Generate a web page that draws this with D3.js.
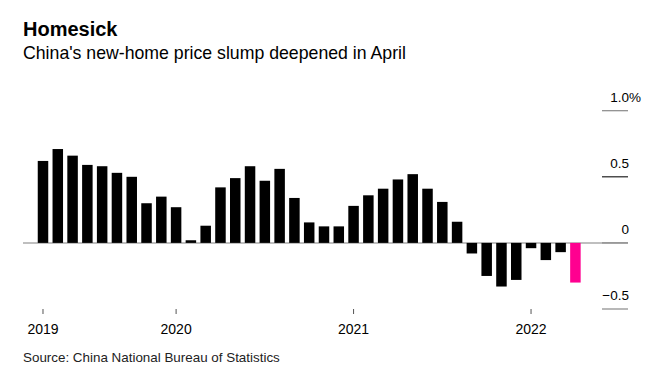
<!DOCTYPE html>
<html>
<meta charset="utf-8">
<style type="text/css">
	body { margin: 0; background: #fff; }
	svg { font-family: "Liberation Sans", Arial, sans-serif; }
	.title { font-size: 20px; font-weight: bold; }
	.subtitle { font-size: 17.7px; }
	.source { font-size: 13.4px; fill: #222; }
	.ylab { font-size: 13.5px; }
	.xaxis text { font-size: 14px; fill: #000; font-family: "Liberation Sans", Arial, sans-serif; }
	.xaxis line { stroke: #555; }
	.xaxis path { display: none; }
</style>
<svg width="654" height="384"></svg>
<script src="https://d3js.org/d3.v7.min.js"></script>
<script>
	// monthly change in new-home prices, Apr 2019 .. Apr 2022 (%)
	var months = [
		'2019-04','2019-05','2019-06','2019-07','2019-08','2019-09','2019-10','2019-11','2019-12',
		'2020-01','2020-02','2020-03','2020-04','2020-05','2020-06','2020-07','2020-08','2020-09','2020-10','2020-11','2020-12',
		'2021-01','2021-02','2021-03','2021-04','2021-05','2021-06','2021-07','2021-08','2021-09','2021-10','2021-11','2021-12',
		'2022-01','2022-02','2022-03','2022-04'
	];
	var values = [
		0.62, 0.71, 0.66, 0.59, 0.58, 0.53, 0.50, 0.30, 0.35,
		0.27, 0.02, 0.13, 0.42, 0.49, 0.58, 0.47, 0.56, 0.34, 0.155, 0.125, 0.125,
		0.28, 0.36, 0.41, 0.48, 0.52, 0.41, 0.31, 0.16, -0.08, -0.25, -0.33, -0.28,
		-0.04, -0.13, -0.07, -0.30
	];
	var yearTicks = ['2019-04', '2020-01', '2021-01', '2022-01'];
	var yearLabels = ['2019', '2020', '2021', '2022'];
	var yTicks = [1.0, 0.5, 0, -0.5];

	var svg = d3.select('svg');

	var x = d3.scaleBand()
			.domain(months)
			.range([35.6, 582.8])
			.paddingInner(0.29)
			.paddingOuter(0.145);

	var y = d3.scaleLinear()
			.domain([-0.5, 1.0])
			.range([309, 110.7]);

	// titles
	svg.append('text').attr('class', 'title').attr('x', 23).attr('y', 36).text('Homesick');
	svg.append('text').attr('class', 'subtitle').attr('x', 23).attr('y', 59)
		.text("China's new-home price slump deepened in April");
	svg.append('text').attr('class', 'source').attr('x', 23).attr('y', 362)
		.text('Source: China National Bureau of Statistics');

	// zero line
	svg.append('line')
		.attr('x1', 23).attr('x2', 628)
		.attr('y1', y(0)).attr('y2', y(0))
		.attr('stroke', '#aaa').attr('stroke-width', 1.5);

	// bars
	svg.append('g').selectAll('rect')
			.data(values)
		.enter().append('rect')
			.attr('x', (d, i) => x(months[i]))
			.attr('width', x.bandwidth())
			.attr('y', d => y(Math.max(0, d)))
			.attr('height', d => Math.abs(y(d) - y(0)))
			.attr('fill', (d, i) => i === values.length - 1 ? '#ff0090' : '#000');

	// right y axis: short rules with labels above
	var yg = svg.append('g').selectAll('g')
			.data(yTicks)
		.enter().append('g')
			.attr('transform', d => 'translate(0,' + y(d) + ')');

	yg.append('line')
		.attr('x1', 602).attr('x2', 628)
		.attr('stroke', d => d === 0.5 ? '#222' : '#888')
		.attr('stroke-width', 1.2);

	yg.append('text')
		.attr('class', 'ylab')
		.attr('x', 629)
		.attr('y', -9)
		.attr('text-anchor', 'end')
		.text(d => d === 1 ? '1.0' : d3.format('')(d))
		.filter(d => d === 1)
		.append('tspan').text('%');

	// "1.0%" lets its % hang past the right edge
	yg.selectAll('text').filter(d => d === 1)
		.attr('text-anchor', 'start')
		.attr('x', function () { return 629 - this.getComputedTextLength() + 12; });

	// x axis
	svg.append('g')
		.attr('class', 'xaxis')
		.attr('transform', 'translate(0,309)')
		.call(d3.axisBottom(x)
			.tickValues(yearTicks)
			.tickSize(5)
			.tickPadding(10)
			.tickFormat(d => yearLabels[yearTicks.indexOf(d)]));
</script>
</html>
